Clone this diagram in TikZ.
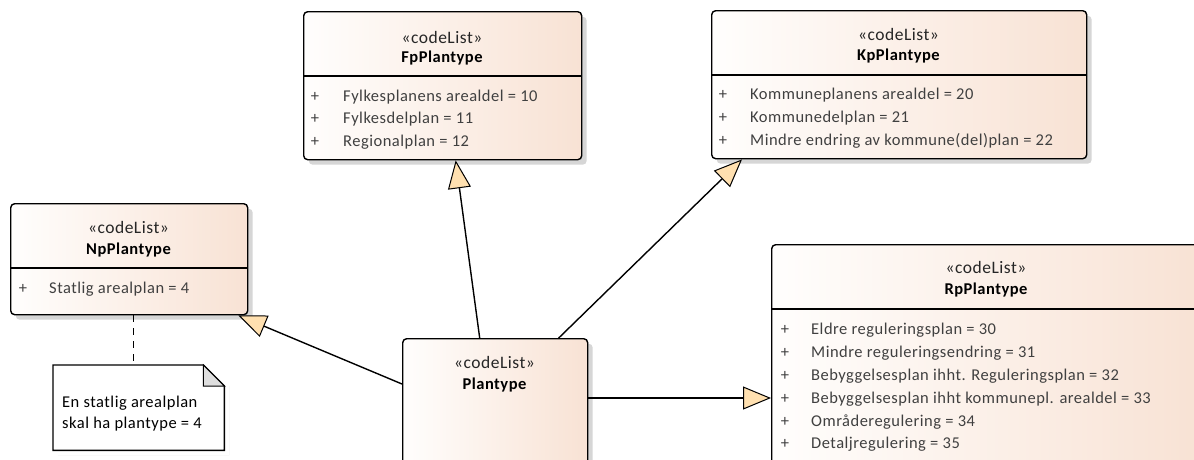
\documentclass[tikz,border=0pt]{standalone}
\usepackage{fontspec}
\setmainfont{Carlito}[LetterSpace=3]
\usetikzlibrary{arrows.meta,shadows}

\definecolor{boxright}{RGB}{248,226,212}
\definecolor{boxleft}{RGB}{255,254,253}
\definecolor{shadowgray}{RGB}{214,214,214}
\definecolor{tipfill}{RGB}{255,224,176}
\definecolor{attrtext}{RGB}{64,64,64}
\definecolor{foldgray}{RGB}{222,222,222}

\tikzset{
  classbox/.style={draw=black, line width=1.4pt, rounded corners=4pt,
    left color=boxleft, right color=boxright, inner sep=0pt,
    anchor=north west,
    drop shadow={shadow xshift=5pt, shadow yshift=-5pt, fill=shadowgray, opacity=1}},
  stereo/.style={font=\fontsize{17.5}{19}\selectfont, text=black!85, inner sep=0pt, anchor=center},
  cname/.style={font=\fontsize{16.5}{19}\selectfont\bfseries, text=black, inner sep=0pt, anchor=center},
  attr/.style={font=\fontsize{16.5}{19}\selectfont, text=attrtext, inner sep=0pt, anchor=west},
  plus/.style={font=\fontsize{16.5}{19}\selectfont, text=attrtext, inner sep=0pt, anchor=center},
  divider/.style={line width=1.4pt, draw=black},
  gen/.style={line width=1.4pt, draw=black,
    -{Triangle[length=28pt, width=23pt, fill=tipfill, line width=1pt]}},
  notetext/.style={font=\fontsize{16.5}{21}\selectfont, text=black, inner sep=0pt,
    anchor=north west, align=left},
}

\begin{document}
\begin{tikzpicture}[x=1pt, y=-1pt]
\useasboundingbox (0,0) rectangle (1194,459);
\clip (0,0) rectangle (1194,459);
\fill[white] (0,0) rectangle (1194,459);

% ---- FpPlantype ----
\node[classbox, minimum width=278pt, minimum height=148pt] (fp) at (303,11) {};
\draw[divider] (fp.west |- 0,76) -- (fp.east |- 0,76);
\node[stereo] (fpst) at (442,37) {«codeList»};
\node[cname] (fpnm) at (442,58) {FpPlantype};
\node[plus] (fpp1) at (315,97) {+};
\node[plus] (fpp2) at (315,119) {+};
\node[plus] (fpp3) at (315,142) {+};
\node[attr] (fpa1) at (343,97) {Fylkesplanens arealdel = 10};
\node[attr] (fpa2) at (343,119) {Fylkesdelplan = 11};
\node[attr] (fpa3) at (343,142) {Regionalplan = 12};

% ---- KpPlantype ----
\node[classbox, minimum width=375pt, minimum height=148pt] (kp) at (711,10) {};
\draw[divider] (kp.west |- 0,75) -- (kp.east |- 0,75);
\node[stereo] (kpst) at (898.5,34) {«codeList»};
\node[cname] (kpnm) at (898.5,56) {KpPlantype};
\node[plus] (kpp1) at (723,95) {+};
\node[plus] (kpp2) at (723,118) {+};
\node[plus] (kpp3) at (723,141) {+};
\node[attr] (kpa1) at (750,95) {Kommuneplanens arealdel = 20};
\node[attr] (kpa2) at (750,118) {Kommunedelplan = 21};
\node[attr] (kpa3) at (750,141) {Mindre endring av kommune(del)plan = 22};

% ---- NpPlantype ----
\node[classbox, minimum width=237pt, minimum height=111pt] (np) at (10,203) {};
\draw[divider] (np.west |- 0,268) -- (np.east |- 0,268);
\node[stereo] (npst) at (128.5,227) {«codeList»};
\node[cname] (npnm) at (128.5,250) {NpPlantype};
\node[plus] (npp1) at (23,289) {+};
\node[attr] (npa1) at (49,289) {Statlig arealplan = 4};

% ---- Plantype ----
\node[classbox, minimum width=185pt, minimum height=150pt] (plant) at (402,338) {};
\node[stereo] (plst) at (494.5,362) {«codeList»};
\node[cname] (plnm) at (494.5,385) {Plantype};

% ---- RpPlantype ----
\node[classbox, minimum width=430pt, minimum height=240pt] (rp) at (771,244) {};
\draw[divider] (rp.west |- 0,309) -- (rp.east |- 0,309);
\node[stereo] (rpst) at (986,267) {«codeList»};
\node[cname] (rpnm) at (986,290) {RpPlantype};
\foreach \i/\y/\t in {1/330/{Eldre reguleringsplan = 30},
                      2/353/{Mindre reguleringsendring = 31},
                      3/376/{Bebyggelsesplan ihht. Reguleringsplan = 32},
                      4/399/{Bebyggelsesplan ihht kommunepl. arealdel = 33},
                      5/422/{Områderegulering = 34},
                      6/444/{Detaljregulering = 35}} {
  \node[plus] (rpp\i) at (785,\y) {+};
  \node[attr] (rpa\i) at (811,\y) {\t};
}

% ---- Note attached to NpPlantype ----
\node[minimum width=171pt, minimum height=85pt, inner sep=0pt, anchor=north west] (note) at (53,365) {};
\fill[shadowgray] ([xshift=5pt,yshift=-21pt]note.north east) rectangle ([xshift=5pt,yshift=-5pt]note.south east);
\fill[shadowgray] ([xshift=5pt,yshift=-5pt]note.south west) rectangle ([xshift=5pt,yshift=-5pt]note.south east);
\draw[line width=1.4pt, fill=white] (note.north west) -- ([xshift=-21pt]note.north east)
  -- ([yshift=-21pt]note.north east) -- (note.south east) -- (note.south west) -- cycle;
\draw[line width=1pt, fill=foldgray] ([xshift=-21pt]note.north east)
  -- ([xshift=-21pt,yshift=-21pt]note.north east) -- ([yshift=-21pt]note.north east) -- cycle;
\node[notetext] (notetxt) at (62,396) {En statlig arealplan\\skal ha plantype = 4};
\draw[line width=1.4pt, dash pattern=on 7pt off 6pt]
  ([xshift=4.5pt]np.south) -- ([xshift=4.5pt]np.south |- note.north);

% ---- Generalizations ----
\draw[gen] ([xshift=-15.5pt]plant.north) -- ([xshift=13pt]fp.south);
\draw[gen] ([xshift=63.5pt]plant.north) -- ([xshift=31pt]kp.south west);
\draw[gen] ([yshift=-46pt]plant.north west) -- ([xshift=-10pt]np.south east);
\draw[gen] ([yshift=-60pt]plant.north east) -- ([yshift=-60pt]plant.north east -| rp.west);
\end{tikzpicture}
\end{document}
